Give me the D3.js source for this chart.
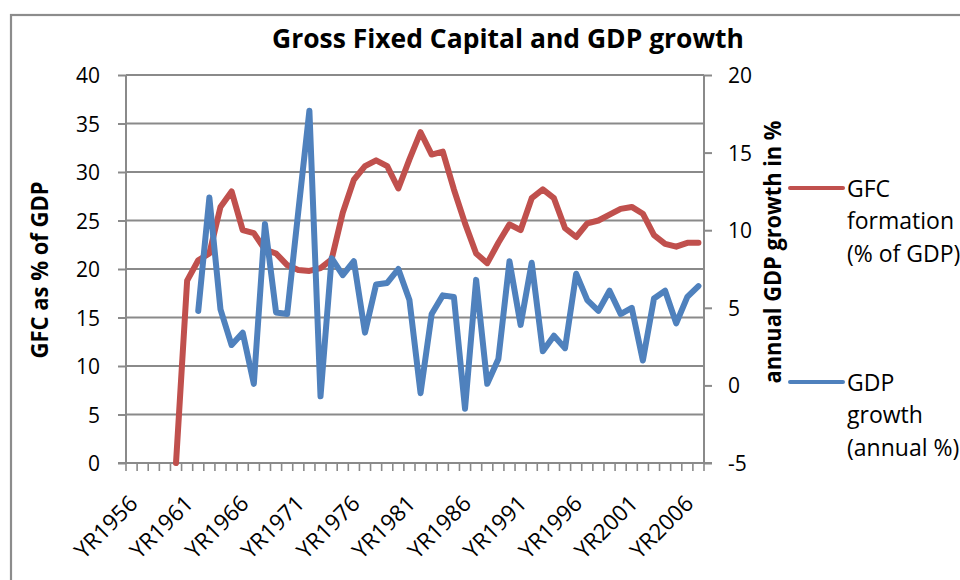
<!DOCTYPE html>
<html>
<head>
<meta charset="utf-8">
<script src="https://cdn.jsdelivr.net/npm/d3@7"></script>
<style>
  html, body { margin: 0; padding: 0; background: #fff; }
  svg { display: block; font-family: "Open Sans", "DejaVu Sans", sans-serif; }
</style>
</head>
<body>
<svg id="chart" width="960" height="580"></svg>
<script>
// Categories: World Bank style year codes, 1956-2007
const years = d3.range(1956, 2008);
const categories = years.map(y => "YR" + y);

// Gross fixed capital formation (% of GDP), left axis
const gfcValues = [
  null, null, null, null, 0, 18.8, 20.9, 21.6, 26.4, 28.0,
  24.0, 23.7, 22.0, 21.6, 20.4, 19.9, 19.8, 20.1, 21.0, 25.8,
  29.2, 30.6, 31.2, 30.6, 28.3, 31.3, 34.1, 31.8, 32.1, 28.2,
  24.7, 21.6, 20.6, 22.7, 24.6, 24.0, 27.3, 28.2, 27.3, 24.2,
  23.3, 24.7, 25.0, 25.6, 26.2, 26.4, 25.7, 23.5, 22.6, 22.3,
  22.7, 22.7
];

// GDP growth (annual %), right axis
const gdpValues = [
  null, null, null, null, null, null, 4.8, 12.1, 4.9, 2.6,
  3.4, 0.1, 10.4, 4.7, 4.6, 11.2, 17.7, -0.7, 8.2, 7.1,
  8.0, 3.4, 6.5, 6.6, 7.5, 5.5, -0.5, 4.6, 5.8, 5.7,
  -1.5, 6.8, 0.1, 1.7, 8.0, 3.9, 7.9, 2.2, 3.2, 2.4,
  7.2, 5.5, 4.8, 6.1, 4.6, 5.0, 1.6, 5.6, 6.1, 4.0,
  5.7, 6.4
];

const leftTicks = [0, 5, 10, 15, 20, 25, 30, 35, 40];
const rightTicks = [-5, 0, 5, 10, 15, 20];
const labelEvery = 5;

const series = [
  { name: ["GFC", "formation", "(% of GDP)"], values: gfcValues, color: "#C0504D", axis: "left" },
  { name: ["GDP", "growth", "(annual %)"], values: gdpValues, color: "#4F81BD", axis: "right" }
];

const svg = d3.select("#chart");
const plot = { left: 126, right: 704, top: 75, bottom: 463 };
const gridColor = "#8a8a8a";
const plain = d => String(d);   // keep an ASCII hyphen for negatives

// Outer chart frame
svg.append("rect")
  .attr("x", 11).attr("y", 15)
  .attr("width", 1000).attr("height", 700)
  .attr("fill", "none").attr("stroke", "#8c8c8c").attr("stroke-width", 2.2);

const x = d3.scaleBand().domain(categories).range([plot.left, plot.right]).padding(0);
const yL = d3.scaleLinear().domain([0, 40]).range([plot.bottom, plot.top]);
const yR = d3.scaleLinear().domain([-5, 20]).range([plot.bottom, plot.top]);
const cx = c => x(c) + x.bandwidth() / 2;

// Left axis with its ticks
const gL = svg.append("g").attr("transform", `translate(${plot.left},0)`)
  .call(d3.axisLeft(yL).tickValues(leftTicks).tickSize(8).tickPadding(18).tickFormat(plain));
gL.select(".domain").remove();
gL.selectAll(".tick line").attr("stroke", gridColor).attr("stroke-width", 2);
gL.selectAll(".tick text").attr("font-size", 21).attr("fill", "#000")
  .attr("font-family", "Open Sans").attr("dy", "0.36em");

// Horizontal gridlines
svg.append("g").selectAll("line").data(leftTicks.filter(d => d > 0)).join("line")
  .attr("x1", plot.left).attr("x2", plot.right)
  .attr("y1", d => yL(d)).attr("y2", d => yL(d))
  .attr("stroke", gridColor).attr("stroke-width", 2);

// Right axis
const gR = svg.append("g").attr("transform", `translate(${plot.right},0)`)
  .call(d3.axisRight(yR).tickValues(rightTicks).tickSize(8).tickPadding(16).tickFormat(plain));
gR.select(".domain").attr("stroke", gridColor).attr("stroke-width", 2)
  .attr("d", `M0,${plot.top}V${plot.bottom}`);
gR.selectAll(".tick line").attr("stroke", gridColor).attr("stroke-width", 2);
gR.selectAll(".tick text").attr("font-size", 21).attr("fill", "#000")
  .attr("font-family", "Open Sans").attr("dy", "0.36em");

// Left axis line
svg.append("line")
  .attr("x1", plot.left).attr("x2", plot.left)
  .attr("y1", plot.top).attr("y2", plot.bottom)
  .attr("stroke", gridColor).attr("stroke-width", 2);

// Category axis: baseline, ticks between categories, rotated labels
svg.append("line")
  .attr("x1", plot.left - 8).attr("x2", plot.right + 8)
  .attr("y1", plot.bottom).attr("y2", plot.bottom)
  .attr("stroke", gridColor).attr("stroke-width", 2);
const boundaries = categories.map(c => x(c)).concat([x.range()[1]]);
svg.append("g").selectAll("line").data(boundaries).join("line")
  .attr("x1", d => d).attr("x2", d => d)
  .attr("y1", plot.bottom).attr("y2", plot.bottom + 8)
  .attr("stroke", gridColor).attr("stroke-width", 1.6);

svg.append("g").selectAll("text")
  .data(categories.filter((c, i) => i % labelEvery === 0))
  .join("text")
  .attr("transform", c => `translate(${cx(c) + 7.5},505) rotate(-45)`)
  .attr("text-anchor", "end")
  .attr("font-size", 22.5)
  .attr("fill", "#000")
  .text(c => c);

// Lines
const lineFor = s => d3.line()
  .defined(d => d.v !== null)
  .x(d => cx(d.c))
  .y(d => (s.axis === "left" ? yL : yR)(d.v));

series.forEach(s => {
  const pts = categories.map((c, i) => ({ c, v: s.values[i] }));
  svg.append("path")
    .datum(pts)
    .attr("d", lineFor(s))
    .attr("fill", "none")
    .attr("stroke", s.color)
    .attr("stroke-width", 6)
    .attr("stroke-linejoin", "round")
    .attr("stroke-linecap", "round");
});

// Title
svg.append("text")
  .attr("x", 508).attr("y", 48)
  .attr("text-anchor", "middle")
  .attr("font-size", 27).attr("font-weight", "bold")
  .attr("textLength", 472).attr("lengthAdjust", "spacingAndGlyphs")
  .text("Gross Fixed Capital and GDP growth");

// Axis titles
svg.append("text")
  .attr("transform", "translate(48,270) rotate(-90)")
  .attr("text-anchor", "middle")
  .attr("font-size", 23).attr("font-weight", "bold")
  .attr("textLength", 177).attr("lengthAdjust", "spacingAndGlyphs")
  .text("GFC as % of GDP");

svg.append("text")
  .attr("transform", "translate(781,252) rotate(-90)")
  .attr("text-anchor", "middle")
  .attr("font-size", 23).attr("font-weight", "bold")
  .attr("textLength", 263).attr("lengthAdjust", "spacingAndGlyphs")
  .text("annual GDP growth in %");

// Legend
const legendY = [188, 382];
series.forEach((s, i) => {
  const g = svg.append("g").attr("transform", `translate(0,${legendY[i]})`);
  g.append("line")
    .attr("x1", 790).attr("x2", 843).attr("y1", 0).attr("y2", 0)
    .attr("stroke", s.color).attr("stroke-width", 4).attr("stroke-linecap", "round");
  g.selectAll("text").data(s.name).join("text")
    .attr("x", 847).attr("y", (d, j) => 8.5 + j * 32.5)
    .attr("font-size", 23).attr("fill", "#000")
    .text(d => d);
});
</script>
</body>
</html>
